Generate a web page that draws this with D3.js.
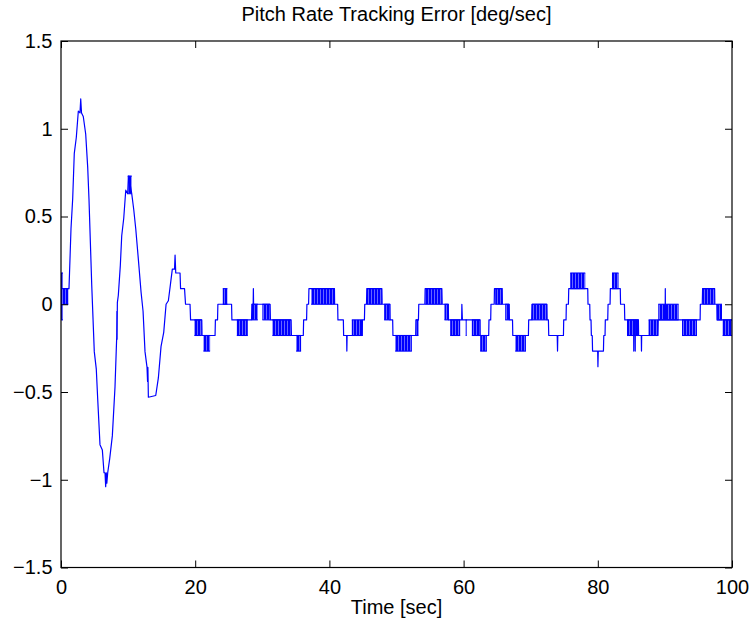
<!DOCTYPE html>
<html>
<head>
<meta charset="utf-8">
<script src="https://cdn.jsdelivr.net/npm/d3@7"></script>
<style>
  html, body { margin: 0; padding: 0; background: #fff; }
  svg text { font-family: "Liberation Sans", Arial, Helvetica, sans-serif; fill: #000; }
</style>
</head>
<body>
<svg id="chart" width="751" height="626"></svg>
<script>
// Axis ticks
const timeTicks = [0, 20, 40, 60, 80, 100];
const errorTicks = [-1.5, -1, -0.5, 0, 0.5, 1, 1.5];

// Labels
const titleText = "Pitch Rate Tracking Error [deg/sec]";
const xLabelText = "Time [sec]";

// Pitch rate tracking error trace: [time (sec), error (deg/sec)]
const trace = [
  [0, 0.089], [1.19, 0.089], [1.27, 0.178], [1.49, 0.43], [1.74, 0.60], [1.98, 0.86],
  [2.28, 0.95], [2.58, 1.10], [2.83, 1.09], [2.94, 1.17], [3.06, 1.09], [3.32, 1.07],
  [3.68, 0.97], [3.98, 0.78], [4.17, 0.60], [4.58, 0.11], [4.96, -0.27], [5.26, -0.37],
  [5.47, -0.54], [5.81, -0.80], [6.16, -0.83], [6.41, -0.96], [6.56, -0.96], [6.66, -1.04],
  [6.75, -0.96], [6.83, -1.02], [6.96, -0.96], [7.26, -0.88], [7.65, -0.75], [8.05, -0.47],
  [8.30, -0.19], [8.33, -0.04], [8.36, -0.20], [8.40, 0.01], [8.54, 0.05], [8.84, 0.22],
  [9.05, 0.39], [9.35, 0.49], [9.65, 0.65], [9.94, 0.63], [10.10, 0.73], [10.54, 0.63],
  [10.84, 0.54], [11.14, 0.43], [11.52, 0.26], [11.93, 0.07], [12.23, -0.04], [12.52, -0.27],
  [12.82, -0.36], [12.90, -0.44], [12.95, -0.36], [13.02, -0.53], [14.12, -0.52], [14.51, -0.42],
  [14.91, -0.24], [15.31, -0.16], [15.66, 0.0], [16.00, 0.02], [16.30, 0.11], [16.59, 0.20],
  [16.92, 0.20], [17.00, 0.28], [17.10, 0.178], [17.74, 0.178], [17.82, 0.089], [18.41, 0.089],
  [18.56, 0], [19.23, 0], [19.31, -0.089], [20.98, -0.089], [21.02, -0.178], [22.96, -0.178],
  [23.01, -0.089], [23.33, -0.089], [23.38, 0], [25.42, 0], [25.47, -0.089], [28.40, -0.089],
  [28.45, 0], [28.64, 0], [28.67, 0.089], [28.70, 0], [31.16, 0], [31.21, -0.089],
  [34.29, -0.089], [34.34, -0.178], [36.11, -0.178], [36.16, -0.089], [36.60, -0.089], [36.65, 0],
  [36.90, 0], [36.95, 0.089], [40.75, 0.089], [40.78, 0], [41.23, 0], [41.27, -0.089],
  [42.08, -0.089], [42.12, -0.178], [42.57, -0.178], [42.60, -0.267], [42.64, -0.178], [44.90, -0.178],
  [44.92, -0.089], [45.22, -0.089], [45.27, 0], [45.53, 0], [45.58, 0.089], [47.82, 0.089],
  [47.86, 0], [49.02, 0], [49.05, -0.089], [49.43, -0.089], [49.47, -0.178], [52.86, -0.178],
  [52.90, -0.089], [53.27, -0.089], [53.32, 0], [54.23, 0], [54.27, 0.089], [56.76, 0.089],
  [56.81, 0], [57.72, 0], [57.75, -0.089], [59.71, -0.089], [59.74, 0], [59.82, -0.089],
  [62.45, -0.089], [62.47, -0.178], [63.74, -0.178], [63.78, -0.089], [64.04, -0.089], [64.08, 0],
  [64.56, 0], [64.60, 0.089], [65.75, 0.089], [65.78, 0], [66.80, 0], [66.83, -0.089],
  [67.29, -0.089], [67.33, -0.178], [69.66, -0.178], [69.70, -0.089], [70.15, -0.089], [70.19, 0],
  [72.42, 0], [72.45, -0.089], [72.64, -0.089], [72.69, -0.178], [73.95, -0.178], [74.00, -0.267],
  [74.04, -0.178], [74.88, -0.178], [74.92, -0.089], [75.27, -0.089], [75.31, 0], [75.62, 0],
  [75.67, 0.089], [78.50, 0.089], [78.54, 0], [78.80, 0], [78.84, -0.089], [78.99, -0.089],
  [79.04, -0.178], [79.17, -0.178], [79.22, -0.267], [79.98, -0.267], [80.02, -0.356], [80.07, -0.267],
  [80.84, -0.267], [80.89, -0.178], [81.08, -0.178], [81.12, -0.089], [81.48, -0.089], [81.53, 0],
  [81.83, 0], [81.87, 0.089], [83.35, 0.089], [83.39, 0], [83.97, 0], [84.02, -0.089],
  [85.34, -0.089], [85.36, -0.267], [85.38, -0.089], [85.56, -0.089], [85.58, -0.267], [85.60, -0.089],
  [86.05, -0.089], [86.08, -0.178], [86.48, -0.178], [86.51, -0.267], [86.54, -0.178], [88.97, -0.178],
  [89.01, -0.089], [90.04, -0.089], [90.06, 0.089], [90.08, -0.089], [94.78, -0.089], [95.25, -0.089],
  [95.28, 0], [95.57, 0], [95.62, 0.089], [97.41, 0.089], [97.44, 0], [97.74, 0],
  [97.77, -0.089], [100, -0.089]
];

// Intervals where the error switches rapidly between two levels:
// [start time, end time, low level, high level]
const chatter = [
  [0.00, 0.30, -0.089, 0.178], [0.30, 1.10, 0, 0.089], [9.94, 10.54, 0.63, 0.73],
  [19.87, 20.98, -0.178, -0.089], [21.22, 22.22, -0.267, -0.178], [24.11, 24.80, 0, 0.089],
  [26.20, 27.84, -0.178, -0.089], [28.43, 29.33, -0.089, 0], [30.01, 31.16, -0.089, 0],
  [31.50, 34.29, -0.178, -0.089], [35.04, 35.78, -0.267, -0.178], [37.28, 40.75, 0, 0.089],
  [43.34, 44.92, -0.178, -0.089], [45.58, 47.82, 0, 0.089], [48.16, 49.05, -0.089, 0],
  [49.80, 52.29, -0.267, -0.178], [52.89, 53.27, -0.178, -0.089], [54.27, 56.76, 0, 0.089],
  [57.15, 57.75, -0.089, 0], [58.00, 59.49, -0.178, -0.089], [60.31, 60.46, -0.178, -0.089],
  [61.23, 62.47, -0.178, -0.089], [62.47, 63.47, -0.267, -0.178], [64.71, 65.75, 0, 0.089],
  [66.20, 66.80, -0.089, 0], [67.69, 69.29, -0.267, -0.178], [70.18, 72.42, -0.089, 0],
  [75.89, 78.13, 0.089, 0.178], [82.11, 83.09, 0.089, 0.178], [84.35, 86.08, -0.178, -0.089],
  [87.57, 88.97, -0.178, -0.089], [89.01, 92.04, -0.089, 0], [92.55, 94.78, -0.178, -0.089],
  [95.62, 97.41, 0, 0.089], [97.77, 98.51, -0.089, 0], [98.60, 100, -0.178, -0.089]
];

const svg = d3.select("#chart");
const W = 751, H = 626;
const plot = { left: 61, right: 732, top: 41, bottom: 567.5 };
const traceColor = "#0000ff";

const x = d3.scaleLinear().domain([0, 100]).range([plot.left, plot.right]);
const y = d3.scaleLinear().domain([-1.5, 1.5]).range([plot.bottom, plot.top]);

svg.append("rect").attr("width", W).attr("height", H).attr("fill", "#fff");

const defs = svg.append("defs");

// Dense vertical strokes used to render rapid level switching
const hatch = defs.append("pattern")
  .attr("id", "switching")
  .attr("patternUnits", "userSpaceOnUse")
  .attr("width", 3).attr("height", 8);
hatch.append("rect")
  .attr("x", 0).attr("y", 0).attr("width", 3).attr("height", 8)
  .attr("fill", traceColor).attr("fill-opacity", 0.6);
hatch.append("rect")
  .attr("x", 0).attr("y", 0).attr("width", 2).attr("height", 8)
  .attr("fill", traceColor);

defs.append("clipPath").attr("id", "clip")
  .append("rect")
  .attr("x", plot.left).attr("y", plot.top)
  .attr("width", plot.right - plot.left).attr("height", plot.bottom - plot.top);

const tickLen = 7;

// Data layer, clipped to the axes box
const data = svg.append("g").attr("clip-path", "url(#clip)");

const bands = data.selectAll("g.chatter")
  .data(chatter)
  .join("g")
  .attr("class", "chatter");

bands.append("rect")
  .attr("x", d => x(d[0]))
  .attr("width", d => Math.max(0.8, x(d[1]) - x(d[0])))
  .attr("y", d => y(d[3]))
  .attr("height", d => y(d[2]) - y(d[3]))
  .attr("fill", "url(#switching)");

// the two levels the signal toggles between
bands.selectAll("line")
  .data(d => [[d[0], d[1], d[2]], [d[0], d[1], d[3]]])
  .join("line")
  .attr("x1", d => x(d[0])).attr("x2", d => x(d[1]))
  .attr("y1", d => y(d[2])).attr("y2", d => y(d[2]))
  .attr("stroke", traceColor).attr("stroke-width", 1.1);

const line = d3.line().x(d => x(d[0])).y(d => y(d[1]));
data.append("path")
  .datum(trace)
  .attr("d", line)
  .attr("fill", "none")
  .attr("stroke", traceColor)
  .attr("stroke-width", 1.2)
  .attr("stroke-linejoin", "round");

// Axes: ticks point inward on all four sides
const gx = svg.append("g")
  .attr("transform", `translate(0,${plot.bottom})`)
  .call(d3.axisBottom(x).tickValues(timeTicks).tickFormat(d3.format(""))
    .tickSizeInner(-tickLen).tickSizeOuter(0).tickPadding(12));
const gxTop = svg.append("g")
  .attr("transform", `translate(0,${plot.top})`)
  .call(d3.axisTop(x).tickValues(timeTicks).tickFormat("")
    .tickSizeInner(-tickLen).tickSizeOuter(0));
const gy = svg.append("g")
  .attr("transform", `translate(${plot.left},0)`)
  .call(d3.axisLeft(y).tickValues(errorTicks).tickFormat(d3.format(""))
    .tickSizeInner(-tickLen).tickSizeOuter(0).tickPadding(8.5));
const gyRight = svg.append("g")
  .attr("transform", `translate(${plot.right},0)`)
  .call(d3.axisRight(y).tickValues(errorTicks).tickFormat("")
    .tickSizeInner(-tickLen).tickSizeOuter(0));

[gx, gxTop, gy, gyRight].forEach(g => {
  g.select(".domain").remove();
  g.selectAll(".tick line").attr("stroke", "#000").attr("stroke-width", 1);
  g.selectAll("text")
    .attr("font-family", "'Liberation Sans', Arial, Helvetica, sans-serif")
    .attr("font-size", 20)
    .attr("fill", "#000");
});

// Axes box
svg.append("rect")
  .attr("x", plot.left).attr("y", plot.top)
  .attr("width", plot.right - plot.left).attr("height", plot.bottom - plot.top)
  .attr("fill", "none").attr("stroke", "#000").attr("stroke-width", 1.2);

// Title and axis label
svg.append("text")
  .attr("x", (plot.left + plot.right) / 2).attr("y", 21)
  .attr("text-anchor", "middle").attr("font-size", 20)
  .text(titleText);
svg.append("text")
  .attr("x", (plot.left + plot.right) / 2).attr("y", 614)
  .attr("text-anchor", "middle").attr("font-size", 20)
  .text(xLabelText);
</script>
</body>
</html>
